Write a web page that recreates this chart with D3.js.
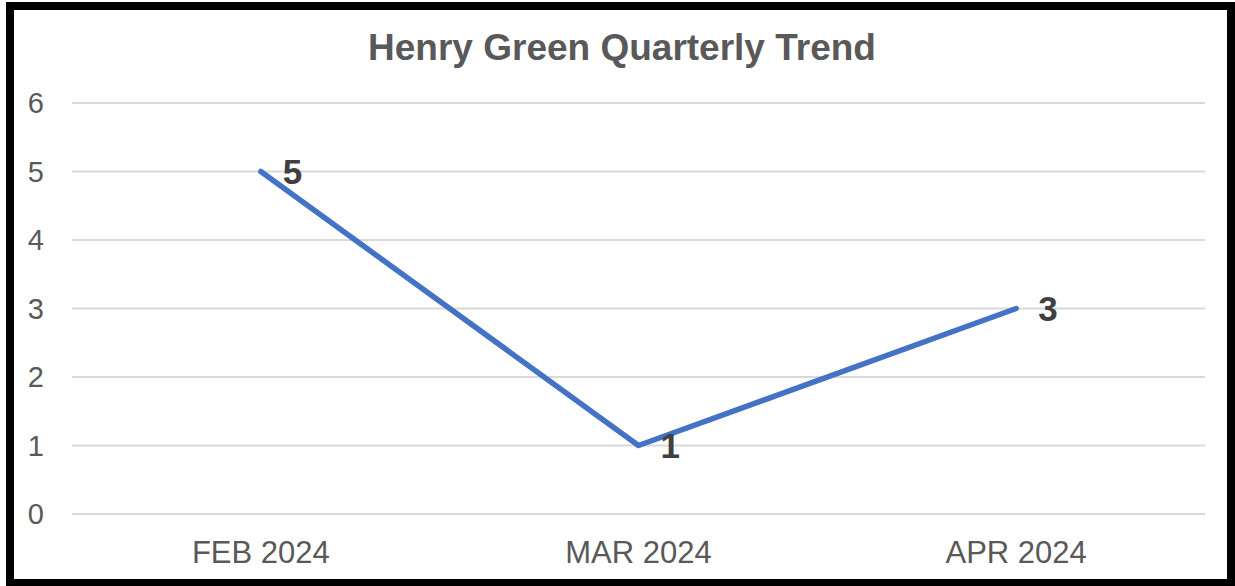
<!DOCTYPE html>
<html>
<head>
<meta charset="utf-8">
<script src="https://cdn.jsdelivr.net/npm/d3@7/dist/d3.min.js"></script>
<style>
  body { margin: 0; background: #fff; }
  text { font-family: "Liberation Sans", Arial, sans-serif; }
</style>
</head>
<body>
<script>
var months = ['FEB 2024', 'MAR 2024', 'APR 2024'];
var values = [5, 1, 3];
var yTicks = [0, 1, 2, 3, 4, 5, 6];
var title = 'Henry Green Quarterly Trend';

var screen = { width: 1235, height: 586 };
var margins = { top: 103, left: 72, bottom: 72, right: 30 };
var width = screen.width - margins.left - margins.right;
var height = 514 - margins.top;

var svg = d3.select('body')
            .append('svg')
            .attr('width', screen.width)
            .attr('height', screen.height);

// outer frame
svg.append('rect')
   .attr('x', 10)
   .attr('y', 6)
   .attr('width', 1221)
   .attr('height', 577)
   .attr('fill', 'white')
   .attr('stroke', 'black')
   .attr('stroke-width', 8);

svg.append('text')
   .attr('x', 622)
   .attr('y', 60)
   .attr('text-anchor', 'middle')
   .attr('font-size', 37)
   .attr('font-weight', 'bold')
   .attr('fill', '#595959')
   .text(title);

var xScale = d3.scaleBand()
               .domain(months)
               .range([0, width]);

var yScale = d3.scaleLinear()
               .domain([0, 6])
               .range([height, 0]);

var plot = svg.append('g')
              .attr('transform', 'translate(' + margins.left + ',' + margins.top + ')');

plot.selectAll('line.grid')
    .data(yTicks)
    .enter()
    .append('line')
    .classed('grid', true)
    .attr('x1', 0)
    .attr('x2', width)
    .attr('y1', function(d){ return yScale(d); })
    .attr('y2', function(d){ return yScale(d); })
    .attr('stroke', '#d9d9d9')
    .attr('stroke-width', 2);

plot.selectAll('text.ytick')
    .data(yTicks)
    .enter()
    .append('text')
    .classed('ytick', true)
    .attr('x', -28)
    .attr('y', function(d){ return yScale(d); })
    .attr('dy', '0.35em')
    .attr('text-anchor', 'end')
    .attr('font-size', 29)
    .attr('fill', '#595959')
    .text(function(d){ return d; });

plot.selectAll('text.xtick')
    .data(months)
    .enter()
    .append('text')
    .classed('xtick', true)
    .attr('x', function(d){ return xScale(d) + xScale.bandwidth()/2; })
    .attr('y', 563 - margins.top)
    .attr('text-anchor', 'middle')
    .attr('font-size', 31)
    .attr('fill', '#595959')
    .text(function(d){ return d; });

var line = d3.line()
             .x(function(d, i){ return xScale(months[i]) + xScale.bandwidth()/2; })
             .y(function(d){ return yScale(d); });

plot.append('path')
    .datum(values)
    .attr('d', line)
    .attr('fill', 'none')
    .attr('stroke', '#4472c4')
    .attr('stroke-width', 5.5)
    .attr('stroke-linecap', 'round')
    .attr('stroke-linejoin', 'round');

plot.selectAll('text.label')
    .data(values)
    .enter()
    .append('text')
    .classed('label', true)
    .attr('x', function(d, i){ return xScale(months[i]) + xScale.bandwidth()/2 + 22; })
    .attr('y', function(d){ return yScale(d); })
    .attr('dy', '0.36em')
    .attr('font-size', 35)
    .attr('font-weight', 'bold')
    .attr('fill', '#404040')
    .text(function(d){ return d; });
</script>
</body>
</html>
